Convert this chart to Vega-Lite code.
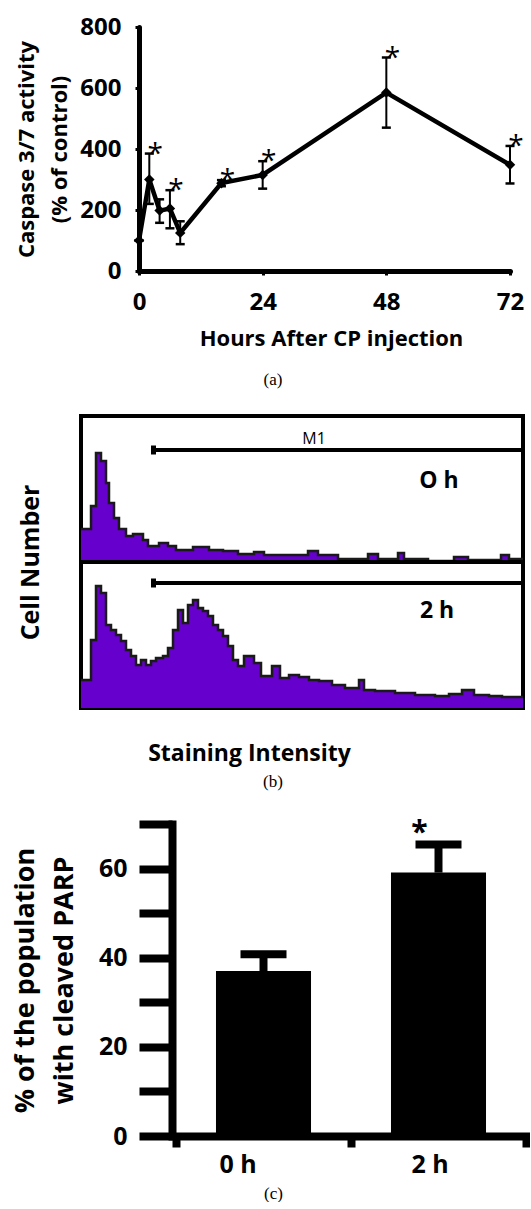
{
  "$schema": "https://vega.github.io/schema/vega-lite/v6.json",
  "background": "white",
  "padding": {"top": 15, "left": 11, "right": 0, "bottom": 0},
  "columns": 1,
  "align": "none",
  "bounds": "full",
  "spacing": 20,
  "datasets": {
    "caspase": [
      {"hours": 0, "act": 100, "lo": 100, "hi": 100, "sig": false},
      {"hours": 2, "act": 300, "lo": 220, "hi": 385, "sig": true},
      {"hours": 4, "act": 198, "lo": 158, "hi": 235, "sig": false},
      {"hours": 6, "act": 205, "lo": 140, "hi": 265, "sig": true},
      {"hours": 8, "act": 125, "lo": 88, "hi": 163, "sig": false},
      {"hours": 16, "act": 288, "lo": 278, "hi": 298, "sig": true},
      {"hours": 24, "act": 315, "lo": 270, "hi": 360, "sig": true},
      {"hours": 48, "act": 585, "lo": 470, "hi": 700, "sig": true},
      {"hours": 72, "act": 348, "lo": 287, "hi": 410, "sig": true}
    ],
    "h0": [
      {"ch": 0, "n": 33}, {"ch": 10, "n": 56}, {"ch": 15, "n": 109}, {"ch": 20, "n": 101},
      {"ch": 25, "n": 79}, {"ch": 28, "n": 59}, {"ch": 33, "n": 44}, {"ch": 38, "n": 33},
      {"ch": 45, "n": 26}, {"ch": 52, "n": 28}, {"ch": 62, "n": 22}, {"ch": 67, "n": 16},
      {"ch": 78, "n": 19}, {"ch": 87, "n": 16}, {"ch": 95, "n": 12}, {"ch": 112, "n": 15},
      {"ch": 128, "n": 12}, {"ch": 142, "n": 11}, {"ch": 157, "n": 8}, {"ch": 173, "n": 10},
      {"ch": 183, "n": 7}, {"ch": 227, "n": 11}, {"ch": 237, "n": 7}, {"ch": 257, "n": 3},
      {"ch": 287, "n": 8}, {"ch": 297, "n": 3}, {"ch": 317, "n": 9}, {"ch": 323, "n": 3},
      {"ch": 347, "n": 1}, {"ch": 373, "n": 5}, {"ch": 387, "n": 2}, {"ch": 420, "n": 7},
      {"ch": 428, "n": 3}, {"ch": 442, "n": 3}
    ],
    "h2": [
      {"ch": 0, "n": 28}, {"ch": 10, "n": 68}, {"ch": 15, "n": 122}, {"ch": 20, "n": 115},
      {"ch": 25, "n": 83}, {"ch": 30, "n": 78}, {"ch": 35, "n": 73}, {"ch": 40, "n": 67},
      {"ch": 45, "n": 58}, {"ch": 50, "n": 52}, {"ch": 55, "n": 43}, {"ch": 60, "n": 48},
      {"ch": 65, "n": 43}, {"ch": 70, "n": 47}, {"ch": 75, "n": 50}, {"ch": 82, "n": 52},
      {"ch": 87, "n": 60}, {"ch": 92, "n": 78}, {"ch": 97, "n": 98}, {"ch": 102, "n": 85},
      {"ch": 107, "n": 103}, {"ch": 112, "n": 108}, {"ch": 117, "n": 100}, {"ch": 122, "n": 97},
      {"ch": 127, "n": 92}, {"ch": 132, "n": 83}, {"ch": 137, "n": 78}, {"ch": 142, "n": 72},
      {"ch": 147, "n": 62}, {"ch": 152, "n": 48}, {"ch": 157, "n": 42}, {"ch": 163, "n": 52},
      {"ch": 173, "n": 45}, {"ch": 180, "n": 32}, {"ch": 191, "n": 42}, {"ch": 199, "n": 30},
      {"ch": 208, "n": 33}, {"ch": 218, "n": 31}, {"ch": 228, "n": 28}, {"ch": 238, "n": 27},
      {"ch": 251, "n": 23}, {"ch": 264, "n": 20}, {"ch": 278, "n": 28}, {"ch": 283, "n": 18},
      {"ch": 294, "n": 17}, {"ch": 314, "n": 15}, {"ch": 334, "n": 13}, {"ch": 354, "n": 12},
      {"ch": 368, "n": 14}, {"ch": 381, "n": 18}, {"ch": 393, "n": 13}, {"ch": 408, "n": 12},
      {"ch": 421, "n": 11}, {"ch": 442, "n": 11}
    ],
    "parp": [
      {"group": "0 h", "pct": 37, "hi": 40.8, "sig": false},
      {"group": "2 h", "pct": 59.1, "hi": 65.4, "sig": true}
    ]
  },
  "concat": [
    {
      "width": 429,
      "height": 244,
      "data": {"name": "caspase"},
      "layer": [
        {
          "mark": {"type": "rule", "color": "black", "strokeWidth": 2},
          "encoding": {
            "x": {"field": "hours", "type": "quantitative", "scale": {"domain": [0, 72], "nice": false, "range": [58, 429]}},
            "y": {"field": "lo", "type": "quantitative", "scale": {"domain": [0, 800], "nice": false}},
            "y2": {"field": "hi"}
          }
        },
        {
          "mark": {"type": "tick", "orient": "horizontal", "color": "black", "opacity": 1, "thickness": 2.5, "size": 9},
          "encoding": {
            "x": {"field": "hours", "type": "quantitative", "scale": {"domain": [0, 72], "nice": false, "range": [58, 429]}},
            "y": {"field": "lo", "type": "quantitative", "scale": {"domain": [0, 800], "nice": false}}
          }
        },
        {
          "mark": {"type": "tick", "orient": "horizontal", "color": "black", "opacity": 1, "thickness": 2.5, "size": 9},
          "encoding": {
            "x": {"field": "hours", "type": "quantitative", "scale": {"domain": [0, 72], "nice": false, "range": [58, 429]}},
            "y": {"field": "hi", "type": "quantitative", "scale": {"domain": [0, 800], "nice": false}}
          }
        },
        {
          "mark": {"type": "line", "color": "black", "strokeWidth": 4.5, "strokeJoin": "miter"},
          "encoding": {
            "x": {
              "field": "hours", "type": "quantitative",
              "scale": {"domain": [0, 72], "nice": false, "range": [58, 429]},
              "axis": {
                "values": [0, 24, 48, 72], "domainWidth": 5, "domainCap": "round", "tickWidth": 3, "tickSize": 4,
                "labelFontSize": 24, "labelPadding": 15,
                "title": "Hours After CP injection", "titleFontSize": 22, "titlePadding": 14, "titleX": 250
              }
            },
            "y": {
              "field": "act", "type": "quantitative",
              "scale": {"domain": [0, 800], "nice": false},
              "axis": {
                "offset": -58,
                "values": [0, 100, 200, 300, 400, 500, 600, 700, 800],
                "labelExpr": "datum.value % 200 === 0 ? datum.label : ''",
                "domainWidth": 5, "domainCap": "round", "tickWidth": 3, "tickSize": 4,
                "labelFontSize": 24, "labelPadding": 14,
                "title": ["Caspase 3/7 activity", "(% of control)"], "titleFontSize": 22,
                "titleLineHeight": 33, "titlePadding": 8
              }
            }
          }
        },
        {
          "mark": {"type": "point", "shape": "diamond", "filled": true, "color": "black", "size": 110, "opacity": 1},
          "encoding": {
            "x": {"field": "hours", "type": "quantitative", "scale": {"domain": [0, 72], "nice": false, "range": [58, 429]}},
            "y": {"field": "act", "type": "quantitative", "scale": {"domain": [0, 800], "nice": false}}
          }
        },
        {
          "transform": [{"filter": "datum.sig"}],
          "mark": {"type": "text", "text": "*", "fontSize": 28, "font": "Open Sans", "dx": 6, "dy": 1, "baseline": "middle", "align": "center"},
          "encoding": {
            "x": {"field": "hours", "type": "quantitative", "scale": {"domain": [0, 72], "nice": false, "range": [58, 429]}},
            "y": {"field": "hi", "type": "quantitative", "scale": {"domain": [0, 800], "nice": false}}
          }
        }
      ]
    },
    {
      "vconcat": [
        {
          "width": 442,
          "height": 146,
          "view": {"stroke": "black", "strokeWidth": 4},
          "title": {"text": "(a)", "orient": "top", "font": "Liberation Serif", "fontSize": 17, "fontWeight": "normal", "anchor": "middle", "dx": -29, "offset": 27},
          "layer": [
            {
              "data": {"name": "h0"},
              "mark": {"type": "area", "interpolate": "step-after", "color": "#6600cc", "opacity": 1, "line": {"color": "#1a1a1a", "strokeWidth": 2.5}},
              "encoding": {
                "x": {"field": "ch", "type": "quantitative", "scale": {"domain": [0, 442], "nice": false}, "axis": null},
                "y": {
                  "field": "n", "type": "quantitative", "scale": {"domain": [0, 146], "nice": false},
                  "axis": {"domain": false, "ticks": false, "labels": false, "title": "Cell Number", "titleFontSize": 25, "titlePadding": 38, "titleY": 146, "titleAlign": "center"}
                }
              }
            },
            {
              "data": {"values": [{"start": 72.5, "end": 442, "level": 112}]},
              "layer": [
                {
                  "mark": {"type": "rule", "color": "black", "strokeWidth": 4},
                  "encoding": {
                    "x": {"field": "start", "type": "quantitative", "scale": {"domain": [0, 442], "nice": false}},
                    "x2": {"field": "end"},
                    "y": {"field": "level", "type": "quantitative", "scale": {"domain": [0, 146], "nice": false}}
                  }
                },
                {
                  "mark": {"type": "tick", "orient": "vertical", "color": "black", "opacity": 1, "thickness": 5, "size": 9},
                  "encoding": {
                    "x": {"field": "start", "type": "quantitative", "scale": {"domain": [0, 442], "nice": false}},
                    "y": {"field": "level", "type": "quantitative", "scale": {"domain": [0, 146], "nice": false}}
                  }
                }
              ]
            },
            {
              "data": {"values": [{"x": 233, "y": 123, "label": "M1"}]},
              "mark": {"type": "text", "font": "Open Sans", "fontSize": 16, "baseline": "middle", "align": "center"},
              "encoding": {
                "x": {"field": "x", "type": "quantitative", "scale": {"domain": [0, 442], "nice": false}},
                "y": {"field": "y", "type": "quantitative", "scale": {"domain": [0, 146], "nice": false}},
                "text": {"field": "label"}
              }
            },
            {
              "data": {"values": [{"x": 358, "y": 81, "label": "O h"}]},
              "mark": {"type": "text", "font": "Open Sans", "fontSize": 23, "fontWeight": "bold", "baseline": "middle", "align": "center"},
              "encoding": {
                "x": {"field": "x", "type": "quantitative", "scale": {"domain": [0, 442], "nice": false}},
                "y": {"field": "y", "type": "quantitative", "scale": {"domain": [0, 146], "nice": false}},
                "text": {"field": "label"}
              }
            }
          ]
        },
        {
          "width": 442,
          "height": 146,
          "view": {"stroke": "black", "strokeWidth": 4},
          "title": {"text": "(b)", "orient": "bottom", "font": "Liberation Serif", "fontSize": 17, "fontWeight": "normal", "anchor": "middle", "dx": -29, "offset": 9},
          "layer": [
            {
              "data": {"name": "h2"},
              "mark": {"type": "area", "interpolate": "step-after", "color": "#6600cc", "opacity": 1, "line": {"color": "#1a1a1a", "strokeWidth": 2.5}},
              "encoding": {
                "x": {
                  "field": "ch", "type": "quantitative", "scale": {"domain": [0, 442], "nice": false},
                  "axis": {"domain": false, "ticks": false, "labels": false, "title": "Staining Intensity", "titleFontSize": 23, "titlePadding": 34, "titleX": 168}
                },
                "y": {"field": "n", "type": "quantitative", "scale": {"domain": [0, 146], "nice": false}, "axis": null}
              }
            },
            {
              "data": {"values": [{"start": 72.5, "end": 442, "level": 125}]},
              "layer": [
                {
                  "mark": {"type": "rule", "color": "black", "strokeWidth": 4},
                  "encoding": {
                    "x": {"field": "start", "type": "quantitative", "scale": {"domain": [0, 442], "nice": false}},
                    "x2": {"field": "end"},
                    "y": {"field": "level", "type": "quantitative", "scale": {"domain": [0, 146], "nice": false}}
                  }
                },
                {
                  "mark": {"type": "tick", "orient": "vertical", "color": "black", "opacity": 1, "thickness": 5, "size": 9},
                  "encoding": {
                    "x": {"field": "start", "type": "quantitative", "scale": {"domain": [0, 442], "nice": false}},
                    "y": {"field": "level", "type": "quantitative", "scale": {"domain": [0, 146], "nice": false}}
                  }
                }
              ]
            },
            {
              "data": {"values": [{"x": 356, "y": 97, "label": "2 h"}]},
              "mark": {"type": "text", "font": "Open Sans", "fontSize": 23, "fontWeight": "bold", "baseline": "middle", "align": "center"},
              "encoding": {
                "x": {"field": "x", "type": "quantitative", "scale": {"domain": [0, 442], "nice": false}},
                "y": {"field": "y", "type": "quantitative", "scale": {"domain": [0, 146], "nice": false}},
                "text": {"field": "label"}
              }
            }
          ]
        }
      ],
      "spacing": 0,
      "bounds": "flush"
    },
    {
      "width": 447,
      "height": 312,
      "title": {"text": "(c)", "orient": "bottom", "font": "Liberation Serif", "fontSize": 17, "fontWeight": "normal", "anchor": "middle", "dx": -31, "offset": 9},
      "data": {"name": "parp"},
      "encoding": {
        "x": {
          "field": "group", "type": "nominal",
          "scale": {"paddingInner": 0, "paddingOuter": 0, "range": [95, 445]},
          "axis": {
            "domainWidth": 8, "domainCap": "square", "tickWidth": 8, "tickSize": 11, "tickBand": "extent",
            "labelFontSize": 25, "labelPadding": 5, "labelAngle": 0,
            "labelOffset": {"condition": {"test": "datum.value === '0 h'", "value": -26}, "value": -9},
            "title": null
          }
        }
      },
      "layer": [
        {
          "mark": {"type": "bar", "color": "black", "width": {"band": 0.543}},
          "encoding": {
            "y": {
              "field": "pct", "type": "quantitative", "scale": {"domain": [0, 70], "nice": false},
              "axis": {
                "offset": -91,
                "values": [0, 10, 20, 30, 40, 50, 60, 70],
                "labelExpr": "datum.value % 20 === 0 ? datum.label : ''",
                "domainWidth": 8, "tickWidth": 8, "tickSize": 33, "domainCap": "square",
                "labelFontSize": 25, "labelPadding": 12,
                "title": ["% of the population", "with cleaved PARP"], "titleFontSize": 27,
                "titleLineHeight": 39, "titlePadding": 20
              }
            }
          }
        },
        {
          "mark": {"type": "rule", "color": "black", "strokeWidth": 8},
          "encoding": {
            "y": {"field": "pct", "type": "quantitative", "scale": {"domain": [0, 70], "nice": false}},
            "y2": {"field": "hi"}
          }
        },
        {
          "mark": {"type": "tick", "orient": "horizontal", "color": "black", "opacity": 1, "thickness": 8, "size": 46},
          "encoding": {
            "y": {"field": "hi", "type": "quantitative", "scale": {"domain": [0, 70], "nice": false}}
          }
        },
        {
          "transform": [{"filter": "datum.sig"}],
          "mark": {"type": "text", "text": "*", "font": "Open Sans", "fontSize": 30, "fontWeight": "bold", "dx": -19, "dy": -12, "baseline": "middle", "align": "center"},
          "encoding": {
            "y": {"field": "hi", "type": "quantitative", "scale": {"domain": [0, 70], "nice": false}}
          }
        }
      ]
    }
  ],
  "config": {
    "view": {"stroke": null},
    "font": "Open Sans",
    "axis": {
      "domainColor": "black", "tickColor": "black", "labelColor": "black", "titleColor": "black",
      "labelFont": "Open Sans", "titleFont": "Open Sans", "labelFontWeight": "bold", "titleFontWeight": "bold",
      "grid": false, "labelFlush": false, "labelOverlap": false
    },
    "title": {"color": "black"},
    "text": {"color": "black"}
  }
}
